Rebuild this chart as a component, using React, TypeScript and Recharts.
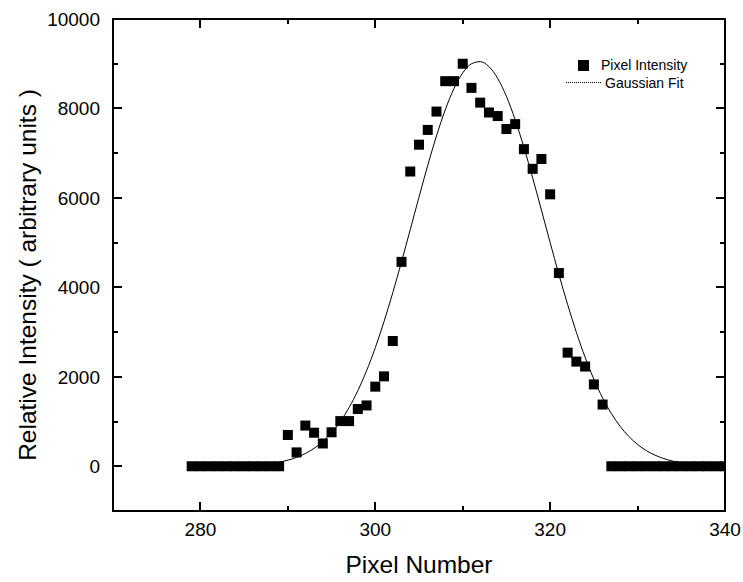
import { ComposedChart, Scatter, Line, XAxis, YAxis, Legend } from "recharts";

const FONT = '"Liberation Sans", Arial, Helvetica, sans-serif';
const INK = "#000";

const pixelNumbers = [
  279, 280, 281, 282, 283, 284, 285, 286, 287, 288, 289,
  290, 291, 292, 293, 294, 295, 296, 297, 298, 299,
  300, 301, 302, 303, 304, 305, 306, 307, 308, 309,
  310, 311, 312, 313, 314, 315, 316, 317, 318, 319,
  320, 321, 322, 323, 324, 325, 326,
  327, 328, 329, 330, 331, 332, 333, 334, 335, 336, 337, 338, 339, 340,
];
const intensities = [
  0, 0, 0, 0, 0, 0, 0, 0, 0, 0, 0,
  700, 310, 910, 750, 510, 760, 1010, 1010, 1280, 1360,
  1780, 2010, 2800, 4570, 6590, 7190, 7520, 7930, 8610, 8610,
  9000, 8460, 8130, 7910, 7830, 7540, 7650, 7090, 6650, 6870,
  6080, 4320, 2540, 2340, 2230, 1830, 1380,
  0, 0, 0, 0, 0, 0, 0, 0, 0, 0, 0, 0, 0, 0,
];

// gaussian fit curve at each pixel
const fitPixels = [
  280, 281, 282, 283, 284, 285, 286, 287, 288, 289,
  290, 291, 292, 293, 294, 295, 296, 297, 298, 299,
  300, 301, 302, 303, 304, 305, 306, 307, 308, 309,
  310, 311, 312, 313, 314, 315, 316, 317, 318, 319,
  320, 321, 322, 323, 324, 325, 326, 327, 328, 329,
  330, 331, 332, 333, 334, 335, 336, 337, 338, 339, 340,
];
const fitValues = [
  1, 2, 4, 6, 10, 16, 26, 40, 61, 92,
  137, 199, 285, 401, 554, 751, 1002, 1312, 1689, 2134,
  2651, 3235, 3880, 4571, 5292, 6019, 6727, 7386, 7968, 8445,
  8795, 8999, 9047, 8936, 8672, 8269, 7746, 7130, 6448, 5729,
  5002, 4291, 3616, 2994, 2436, 1947, 1529, 1180, 894, 666,
  488, 350, 248, 172, 117, 79, 52, 33, 21, 13, 8,
];

const xTicks = [280, 290, 300, 310, 320, 330, 340];
const xMajor = [280, 300, 320, 340];
const yTicks = [0, 1000, 2000, 3000, 4000, 5000, 6000, 7000, 8000, 9000, 10000];
const yMajor = [0, 2000, 4000, 6000, 8000, 10000];
const X_DOMAIN = [270, 340];
const Y_DOMAIN = [-1000, 10000];

const scatterData = pixelNumbers.map((x, i) => ({ x, y: intensities[i] }));
const fitData = fitPixels.map((x, i) => ({ x, fit: fitValues[i] }));

// layout
const W = 743;
const H = 582;
const MARGIN = { top: 19, right: 18, bottom: 0, left: 0 };
const Y_AXIS_W = 113;
const X_AXIS_H = 71;
const PLOT_LEFT = MARGIN.left + Y_AXIS_W;
const PLOT_TOP = MARGIN.top;
const PLOT_W = W - MARGIN.left - MARGIN.right - Y_AXIS_W;
const PLOT_H = H - MARGIN.top - MARGIN.bottom - X_AXIS_H;
const MAJOR = 9;
const MINOR = 5;

// ── tick labels (Recharts axes) ──────────────────────────────────────────────

function BottomTick({ x, y, payload }: any) {
  if (!xMajor.includes(payload.value)) return <g />;
  return (
    <text x={x} y={Number(y) + 12} dy="0.71em" textAnchor="middle" fontSize={19} fontFamily={FONT} fill={INK}>
      {payload.value}
    </text>
  );
}

function LeftTick({ x, y, payload }: any) {
  if (!yMajor.includes(payload.value)) return <g />;
  return (
    <text x={Number(x) - 13} y={y} dy="0.355em" textAnchor="end" fontSize={19} fontFamily={FONT} fill={INK}>
      {payload.value}
    </text>
  );
}

// ── box frame with inward major/minor ticks, as HTML strokes ────────────────

function Frame() {
  const sx = (v: number) => PLOT_LEFT + ((v - X_DOMAIN[0]) / (X_DOMAIN[1] - X_DOMAIN[0])) * PLOT_W;
  const sy = (v: number) => PLOT_TOP + ((Y_DOMAIN[1] - v) / (Y_DOMAIN[1] - Y_DOMAIN[0])) * PLOT_H;
  const bar = (key: string, left: number, top: number, width: number, height: number) => (
    <div key={key} style={{ position: "absolute", left, top, width, height, background: INK }} />
  );
  const right = PLOT_LEFT + PLOT_W;
  const bottom = PLOT_TOP + PLOT_H;
  const parts = [
    bar("top", PLOT_LEFT - 1, PLOT_TOP - 1, PLOT_W + 2, 2),
    bar("bottom", PLOT_LEFT - 1, bottom - 1, PLOT_W + 2, 2),
    bar("left", PLOT_LEFT - 1, PLOT_TOP - 1, 2, PLOT_H + 2),
    bar("right", right - 1, PLOT_TOP - 1, 2, PLOT_H + 2),
  ];
  xTicks
    .filter((v) => v !== X_DOMAIN[1])
    .forEach((v) => {
      const len = xMajor.includes(v) ? MAJOR : MINOR;
      const px = sx(v);
      parts.push(bar(`xb${v}`, px - 1, bottom - len, 2, len));
      parts.push(bar(`xt${v}`, px - 1, PLOT_TOP, 2, len));
    });
  yTicks
    .filter((v) => v !== Y_DOMAIN[1])
    .forEach((v) => {
      const len = yMajor.includes(v) ? MAJOR : MINOR;
      const py = sy(v);
      parts.push(bar(`yl${v}`, PLOT_LEFT, py - 1, len, 2));
      parts.push(bar(`yr${v}`, right - len, py - 1, len, 2));
    });
  return <>{parts}</>;
}

function Square({ cx, cy }: any) {
  if (cx == null || cy == null) return null;
  return <rect x={cx - 5} y={cy - 5} width={10} height={10} fill={INK} />;
}

function LegendBox() {
  return (
    <div style={{ position: "relative", fontFamily: FONT, fontSize: 14, color: INK }}>
      <Frame />
      <div style={{ position: "absolute", left: 578, top: 60, width: 11, height: 11, background: INK }} />
      <span style={{ position: "absolute", left: 601, top: 57, lineHeight: "16px", whiteSpace: "nowrap" }}>
        Pixel Intensity
      </span>
      <div
        style={{ position: "absolute", left: 566, top: 82, width: 35, height: 0, borderTop: `1px dotted ${INK}` }}
      />
      <span style={{ position: "absolute", left: 605, top: 75, lineHeight: "16px", whiteSpace: "nowrap" }}>
        Gaussian Fit
      </span>
    </div>
  );
}

const axisLine = { stroke: INK, strokeWidth: 2 };

export default function App() {
  return (
    <div style={{ position: "absolute", left: 0, top: 0, width: W, height: H, background: "#fff" }}>
      <ComposedChart width={W} height={H} margin={MARGIN}>
        <XAxis
          type="number"
          dataKey="x"
          domain={X_DOMAIN}
          ticks={xTicks}
          interval={0}
          allowDataOverflow
          height={X_AXIS_H}
          tickSize={0}
          tickMargin={0}
          tickLine={false}
          axisLine={axisLine}
          tick={(p: any) => <BottomTick {...p} />}
          label={(props: any) => {
            const vb = props.viewBox;
            return (
              <text
                x={vb.x + vb.width / 2}
                y={vb.y + 62}
                textAnchor="middle"
                fontSize={24.5}
                fontFamily={FONT}
                fill={INK}
              >
                Pixel Number
              </text>
            );
          }}
        />
        <YAxis
          type="number"
          domain={Y_DOMAIN}
          ticks={yTicks}
          interval={0}
          allowDataOverflow
          width={Y_AXIS_W}
          tickSize={0}
          tickMargin={0}
          tickLine={false}
          axisLine={axisLine}
          tick={(p: any) => <LeftTick {...p} />}
          label={(props: any) => {
            const vb = props.viewBox;
            const cx = vb.x + 27;
            const cy = vb.y + vb.height / 2 + 10;
            return (
              <text
                x={cx}
                y={cy}
                transform={`rotate(-90 ${cx} ${cy})`}
                textAnchor="middle"
                dominantBaseline="central"
                fontSize={24.5}
                fontFamily={FONT}
                fill={INK}
              >
                Relative Intensity ( arbitrary units )
              </text>
            );
          }}
        />
        <Legend
          layout="vertical"
          align="center"
          verticalAlign="middle"
          wrapperStyle={{ left: 0, top: 0, width: W, height: 0 }}
          content={() => <LegendBox />}
        />
        <Line
          data={fitData}
          dataKey="fit"
          type="monotone"
          stroke={INK}
          strokeWidth={1}
          dot={false}
          activeDot={false}
          isAnimationActive={false}
          legendType="none"
        />
        <Scatter
          data={scatterData}
          dataKey="y"
          shape={(p: any) => <Square {...p} />}
          isAnimationActive={false}
        />
      </ComposedChart>
    </div>
  );
}
